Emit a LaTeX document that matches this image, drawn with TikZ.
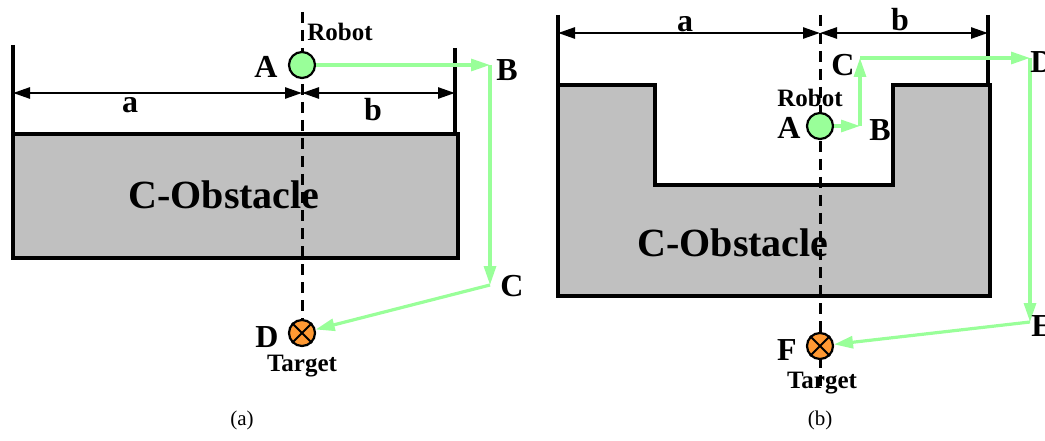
\documentclass[tikz,border=0pt]{standalone}
\usepackage{fontspec}
\setmainfont{Liberation Serif}
\usetikzlibrary{arrows.meta}
\definecolor{pathgreen}{HTML}{99FF99}
\definecolor{obsgray}{HTML}{C0C0C0}
\definecolor{targetorange}{HTML}{FF9933}
\begin{document}
\begin{tikzpicture}[x=1pt,y=-1pt,
  bound/.style={line width=3.2pt},
  dim/.style={line width=2.6pt,{Triangle[length=17pt,width=11pt]}-{Triangle[length=17pt,width=11pt]}},
  axis/.style={line width=3pt,dash pattern=on 11pt off 7pt},
  obstacle/.style={fill=obsgray,draw=black,line width=3.8pt},
  route/.style={pathgreen,line width=3.2pt,-{Triangle[length=19pt,width=12pt]}},
  robot/.style={circle,draw,line width=2.2pt,fill=pathgreen,minimum size=26pt,inner sep=0pt},
  target/.style={circle,draw,line width=2.2pt,fill=targetorange,minimum size=26pt,inner sep=0pt},
  pt/.style={font=\fontsize{32}{32}\selectfont\bfseries},
  tag/.style={font=\fontsize{25}{25}\selectfont\bfseries},
  obslbl/.style={font=\fontsize{40}{40}\selectfont\bfseries},
  caption/.style={font=\fontsize{21}{21}\selectfont}]
\useasboundingbox (0,0) rectangle (1045,441);

% (a) wall obstacle
\draw[obstacle] (13,134) rectangle (458,258);
\node[obslbl] (obsa) at (224,195) {C-Obstacle};
\draw[axis] (302,12) -- (302,345);
\draw[bound] (13,45) -- (13,134);
\draw[bound] (455,48) -- (455,134);
\coordinate (aL) at (13,93);
\coordinate (aM) at (302,93);
\coordinate (aR) at (455,93);
\draw[dim] (aL) -- (aM);
\draw[dim] (aM) -- (aR);
\node[pt] (la) at (130,105) {a};
\node[pt] (lb) at (373,110) {b};

\node[robot] (A) at (302,65) {};
\node[pt] (lA) at (266,67) {A};
\node[tag] (robota) at (340,32) {Robot};
\coordinate (B) at (490,65);
\coordinate (C) at (490,285);
\node[target] (D) at (302,333) {};
\draw[line width=1.8pt] (D.north west) -- (D.south east) (D.north east) -- (D.south west);
\draw[route] (A) -- (B);
\draw[route] (B) -- (C);
\draw[route] (C) -- (D);
\node[pt] (lB) at (507,70) {B};
\node[pt] (lC) at (512,286) {C};
\node[pt] (lD) at (267,337) {D};
\node[tag] (targeta) at (302,366) {Target};
\node[caption] (capa) at (242,420) {(a)};

% (b) U-shaped obstacle
\draw[obstacle] (558,85) -- (655,85) -- (655,185) -- (893,185) -- (893,85)
  -- (990,85) -- (990,296) -- (558,296) -- cycle;
\node[obslbl] (obsb) at (733,243) {C-Obstacle};
\draw[axis] (820,15) -- (820,392);
\draw[bound] (558,15) -- (558,85);
\draw[bound] (988,15) -- (988,85);
\coordinate (uL) at (558,33);
\coordinate (uM) at (820,33);
\coordinate (uR) at (988,33);
\draw[dim] (uL) -- (uM);
\draw[dim] (uM) -- (uR);
\node[pt] (ua) at (685,24) {a};
\node[pt] (ub) at (900,20) {b};

\node[robot] (uA) at (820,126) {};
\node[pt] (ulA) at (789,128) {A};
\node[tag] (robotb) at (810,98) {Robot};
\coordinate (uB) at (860,126);
\coordinate (uC) at (860,58);
\coordinate (uD) at (1030,58);
\coordinate (uE) at (1030,322);
\node[target] (uF) at (820,346) {};
\draw[line width=1.8pt] (uF.north west) -- (uF.south east) (uF.north east) -- (uF.south west);
\draw[route] (uA) -- (uB);
\draw[route] (uB) -- (uC);
\draw[route] (uC) -- (uD);
\draw[route] (uD) -- (uE);
\draw[route] (uE) -- (uF);
\node[pt] (ulB) at (880,130) {B};
\node[pt] (ulC) at (843,65) {C};
\node[pt] (ulD) at (1042,62) {D};
\node[pt] (ulE) at (1042,326) {E};
\node[pt] (ulF) at (787,350) {F};
\node[tag] (targetb) at (822,383) {Target};
\node[caption] (capb) at (820,420) {(b)};
\end{tikzpicture}
\end{document}
